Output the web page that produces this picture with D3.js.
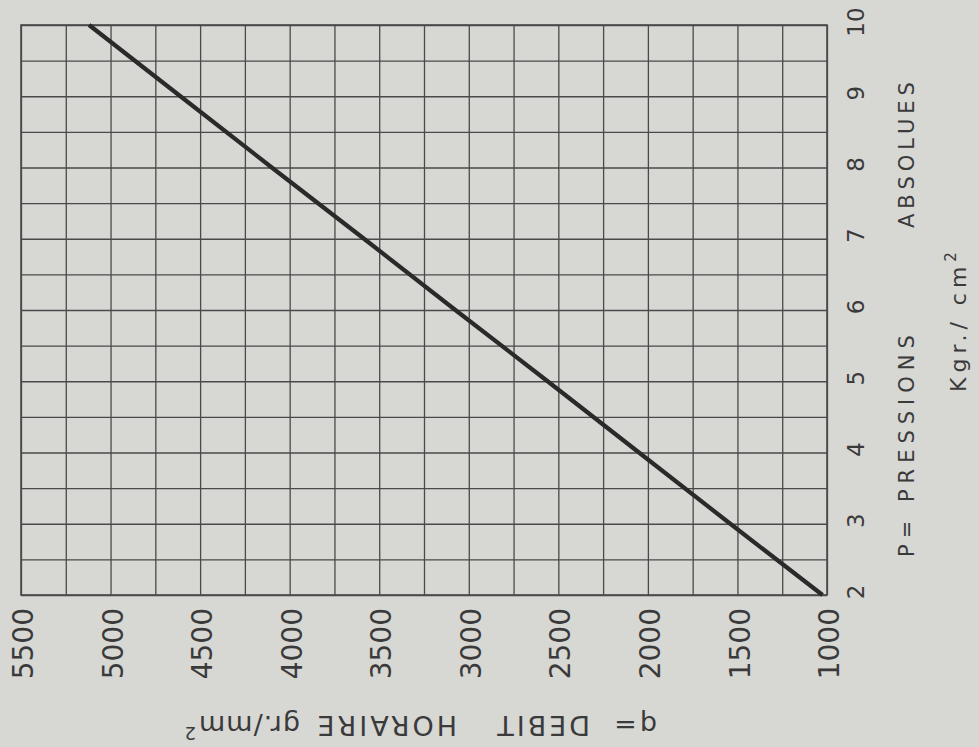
<!DOCTYPE html>
<html>
<head>
<meta charset="utf-8">
<script src="https://cdn.jsdelivr.net/npm/d3@7"></script>
<style>
  html, body { margin: 0; padding: 0; background: #d7d7d4; }
  svg { display: block; }
  text { font-family: "DejaVu Sans", sans-serif; fill: #3a3a3a; }
</style>
</head>
<body>
<svg id="chart" width="979" height="747"></svg>
<script>
// Absolute pressure P (kgr/cm²) and hourly flow q (gr/mm²)
const pressures = [2, 3, 4, 5, 6, 7, 8, 9, 10];
const flows = [1025, 1540, 2050, 2560, 3075, 3585, 4100, 4610, 5120];

// Tick labels
const pTicks = [2, 3, 4, 5, 6, 7, 8, 9, 10];
const qTicks = [5500, 5000, 4500, 4000, 3500, 3000, 2500, 2000, 1500, 1000];
const qTickLabels = ["5500", "5000", "4500", "4000", "3500", "3000", "2500", "2000", "1500", "1000"];

// Half-step grid lines
const pGrid = d3.range(2, 10.01, 0.5);
const qGrid = d3.range(1000, 5500.1, 250);

const svg = d3.select("#chart");

// The sheet is turned a quarter turn: P runs upward on the right,
// q runs right-to-left along the bottom.
const frame = { left: 21, right: 827, top: 25, bottom: 595 };
const x = d3.scaleLinear().domain([5500, 1000]).range([frame.left, frame.right]);
const y = d3.scaleLinear().domain([2, 10]).range([frame.bottom, frame.top]);

const ink = "#4a4a4a";

// Vertical grid (q)
const gx = svg.append("g")
  .attr("transform", `translate(0,${frame.bottom})`)
  .call(d3.axisBottom(x).tickValues(qGrid).tickSize(-(frame.bottom - frame.top)).tickFormat(""));
gx.select(".domain").remove();
gx.selectAll(".tick line").attr("stroke", ink).attr("stroke-width", 1.3);

// Horizontal grid (P)
const gy = svg.append("g")
  .attr("transform", `translate(${frame.right},0)`)
  .call(d3.axisRight(y).tickValues(pGrid).tickSize(-(frame.right - frame.left)).tickFormat(""));
gy.select(".domain").remove();
gy.selectAll(".tick line").attr("stroke", ink).attr("stroke-width", 1.3);

// Frame
svg.append("rect")
  .attr("x", frame.left).attr("y", frame.top)
  .attr("width", frame.right - frame.left).attr("height", frame.bottom - frame.top)
  .attr("fill", "none").attr("stroke", ink).attr("stroke-width", 1.6);

// Flow curve
const curve = pressures.map((p, i) => [p, flows[i]]);
svg.append("path")
  .datum(curve)
  .attr("d", d3.line().x(d => x(d[1])).y(d => y(d[0])))
  .attr("fill", "none")
  .attr("stroke", "#2a2a2a")
  .attr("stroke-width", 4.2)
  .attr("stroke-linecap", "butt");

// q tick labels, reading upward
svg.append("g").selectAll("text")
  .data(qTicks)
  .join("text")
  .attr("transform", d => `translate(${x(d) + 2},608) rotate(-90)`)
  .attr("text-anchor", "end")
  .attr("dy", "0.36em")
  .attr("font-size", 28)
  .text((d, i) => qTickLabels[i]);

// P tick labels, reading upward
svg.append("g").selectAll("text")
  .data(pTicks)
  .join("text")
  .attr("transform", d => `translate(856,${y(d) - 3}) rotate(-90)`)
  .attr("text-anchor", "middle")
  .attr("dy", "0.36em")
  .attr("font-size", 23)
  .text(d => d);

// P axis title
svg.append("text")
  .attr("transform", "translate(914,557) rotate(-90)")
  .attr("text-anchor", "start")
  .attr("font-size", 21)
  .attr("letter-spacing", 6)
  .text("P= PRESSIONS");
svg.append("text")
  .attr("transform", "translate(914,228) rotate(-90)")
  .attr("text-anchor", "start")
  .attr("font-size", 21)
  .attr("letter-spacing", 5)
  .text("ABSOLUES");

// P unit
const unit = svg.append("text")
  .attr("transform", "translate(966,392) rotate(-90)")
  .attr("text-anchor", "start")
  .attr("font-size", 22)
  .attr("letter-spacing", 5);
unit.append("tspan").text("Kgr./ cm");
unit.append("tspan").attr("font-size", 15).attr("dy", -10).text("2");

// q axis title, turned upside down
const qTitle = svg.append("g").attr("transform", "translate(657,716) rotate(180)");
const qWords = [
  { t: "q=", at: 0 },
  { t: "DEBIT", at: 67 },
  { t: "HORAIRE", at: 200 },
  { t: "gr./mm", at: 357 }
];
qTitle.selectAll("text")
  .data(qWords)
  .join("text")
  .attr("x", d => d.at)
  .attr("font-size", 27)
  .attr("letter-spacing", d => d.t === "gr./mm" ? 1 : 3)
  .text(d => d.t);
qTitle.append("text")
  .attr("x", 461)
  .attr("y", -11)
  .attr("font-size", 18)
  .text("2");
</script>
</body>
</html>
